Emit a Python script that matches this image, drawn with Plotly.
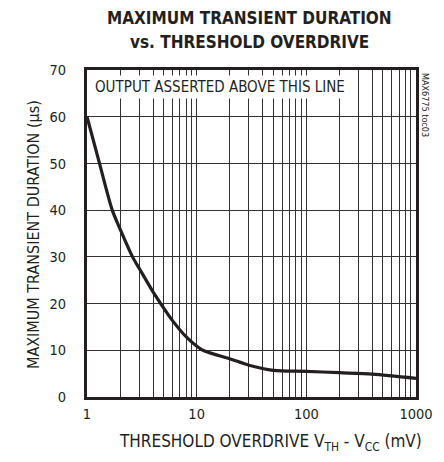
import plotly.graph_objects as go

overdrive_mv = [1, 1.3, 1.7, 2, 2.6, 3, 4, 4.7, 6, 8, 11, 13, 20, 30, 50, 100, 200, 400, 1000]
duration_us = [60, 50, 40, 36, 30, 27.5, 22.5, 20, 16.4, 12.9, 10.2, 9.5, 8.2, 6.8, 5.7, 5.5, 5.2, 4.9, 4.0]

x_ticks = [1, 10, 100, 1000]
y_ticks = [0, 10, 20, 30, 40, 50, 60, 70]

FONT = "DejaVu Sans Condensed, DejaVu Sans, sans-serif"
INK = "#231f20"
L, R, T, B = 87, 416, 70, 397
PW, PH = R - L, B - T

fig = go.Figure()
fig.add_trace(go.Scatter(
    x=overdrive_mv, y=duration_us, mode="lines",
    line=dict(color=INK, width=3.2, shape="spline", smoothing=0.8),
    showlegend=False, hoverinfo="skip",
))

fig.update_layout(
    width=444, height=462,
    margin=dict(l=L, r=444 - R, t=T, b=462 - B, autoexpand=False),
    paper_bgcolor="white", plot_bgcolor="white",
    font=dict(family=FONT, size=14, color=INK),
)

fig.update_xaxes(
    type="log", range=[0, 3], automargin=False,
    tickvals=x_ticks, ticktext=[str(v) for v in x_ticks],
    tickfont=dict(family=FONT, size=14.5, color=INK),
    showgrid=True, gridcolor="#333333", gridwidth=1,
    minor=dict(showgrid=True, gridcolor="#333333", gridwidth=1, dtick="D1"),
    showline=True, linecolor=INK, linewidth=3, mirror=True,
    ticks="", ticklabelstandoff=2,
    zeroline=False,
)
fig.update_yaxes(
    range=[0, 70], tickvals=y_ticks, automargin=False,
    tickfont=dict(family=FONT, size=14.5, color=INK),
    showgrid=True, gridcolor="#333333", gridwidth=1,
    showline=True, linecolor=INK, linewidth=3, mirror=True,
    ticks="", ticklabelstandoff=15,
    zeroline=False,
)

# axis titles
fig.add_annotation(
    text="THRESHOLD OVERDRIVE V<sub>TH</sub> - V<sub>CC</sub> (mV)",
    xref="paper", yref="paper", x=(270 - L) / PW, y=0, yshift=-(442 - B),
    xanchor="center", yanchor="middle", showarrow=False,
    font=dict(family=FONT, size=17, color=INK),
)
fig.add_annotation(
    text="MAXIMUM TRANSIENT DURATION (µs)",
    xref="paper", yref="paper", x=0, xshift=-(L - 33), y=(B - 235) / PH,
    xanchor="center", yanchor="middle", textangle=-90, showarrow=False,
    font=dict(family=FONT, size=16, color=INK),
)

# chart title (two lines)
fig.add_annotation(
    text="<b>MAXIMUM TRANSIENT DURATION</b>",
    xref="paper", yref="paper", x=(249 - L) / PW, y=1, yshift=T - 18,
    xanchor="center", yanchor="middle",
    showarrow=False, font=dict(family=FONT, size=17, color=INK),
)
fig.add_annotation(
    text="<b>vs. THRESHOLD OVERDRIVE</b>",
    xref="paper", yref="paper", x=(249 - L) / PW, y=1, yshift=T - 42,
    xanchor="center", yanchor="middle",
    showarrow=False, font=dict(family=FONT, size=17, color=INK),
)
fig.add_annotation(
    text="OUTPUT ASSERTED ABOVE THIS LINE",
    xref="paper", yref="paper", x=0.015, y=0.985, xanchor="left", yanchor="top",
    showarrow=False, bgcolor="white", borderpad=2,
    font=dict(family=FONT, size=15, color=INK),
)
fig.add_annotation(
    text="MAX6775 toc03",
    xref="paper", yref="paper", x=1, y=1, xshift=9, yshift=-1,
    xanchor="center", yanchor="top", textangle=90,
    showarrow=False, font=dict(family=FONT, size=9, color=INK),
)

fig.write_html("out.html", config={"displayModeBar": False},
               post_script="document.body.style.margin='0';")
